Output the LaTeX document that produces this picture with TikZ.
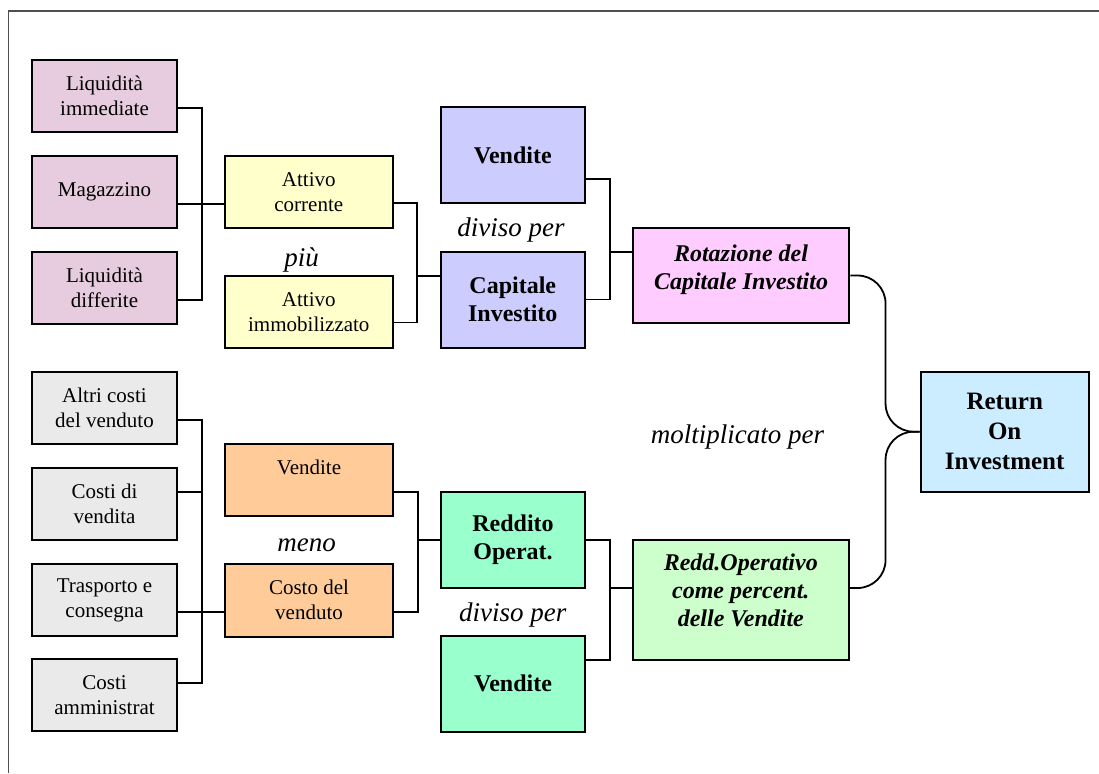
\documentclass[tikz,border=0pt]{standalone}
\usepackage{fontspec}
\setmainfont{Liberation Serif}
% box fills
\definecolor{mauve}{RGB}{230,204,222}
\definecolor{paleyellow}{RGB}{255,255,204}
\definecolor{lavender}{RGB}{204,204,255}
\definecolor{pinkish}{RGB}{255,204,255}
\definecolor{skyblue}{RGB}{204,236,255}
\definecolor{lightgrey}{RGB}{234,234,234}
\definecolor{peach}{RGB}{255,204,153}
\definecolor{mint}{RGB}{153,255,204}
\definecolor{palegreen}{RGB}{204,255,204}
\definecolor{framegrey}{RGB}{80,80,80}
% raise a block of centred lines without changing its reported size
\newcommand\liftlines[2]{\raisebox{#1}[\height][\depth]{\begin{tabular}{@{}c@{}}#2\end{tabular}}}
\begin{document}
\begin{tikzpicture}[x=1pt,y=-1pt,
  box/.style={draw=black, line width=2pt, inner sep=0pt, align=center},
  leaf/.style={box, fill=#1, minimum width=144.4pt, minimum height=72.5pt,
    font=\fontsize{21}{25}\selectfont},
  mid/.style={box, fill=#1, minimum width=168pt, minimum height=72.5pt,
    font=\fontsize{21}{25}\selectfont},
  opbox/.style={box, fill=#1, minimum width=144.3pt, minimum height=96pt,
    font=\fontsize{24}{28}\selectfont\bfseries},
  ratio/.style={box, fill=#1, minimum width=216.5pt,
    font=\fontsize{24}{28}\selectfont\bfseries\itshape},
  lbl/.style={anchor=base, inner sep=0pt, font=\fontsize{27}{32}\selectfont\itshape},
  conn/.style={line width=1.8pt, line join=miter},
]
\useasboundingbox (0,0) rectangle (1099,773);

% outer frame (top and left edges)
\draw[framegrey, line width=1.6pt] (8.3,773) -- (8.3,10.8) -- (1099,10.8);

% asset components
\node[leaf=mauve] (lq1) at (104.5,96.2) {Liquidità\\immediate};
\node[leaf=mauve] (mag) at (104.5,192) {Magazzino};
\node[leaf=mauve] (lq2) at (104.5,287.8) {Liquidità\\differite};

% cost components
\node[leaf=lightgrey] (alt) at (104.5,407.8) {Altri costi\\del venduto};
\node[leaf=lightgrey] (cdv) at (104.5,503.8) {Costi di\\vendita};
\node[leaf=lightgrey] (tra) at (104.5,600) {Trasporto e\\consegna};
\node[leaf=lightgrey] (amm) at (104.5,695.2) {Costi\\amministrat};

% second level
\node[mid=paleyellow] (ac) at (308.8,192) {Attivo\\corrente};
\node[mid=paleyellow] (ai) at (308.8,312) {Attivo\\immobilizzato};
\node[mid=peach] (ven2) at (309,480) {\liftlines{11pt}{Vendite}};
\node[mid=peach] (cos) at (309,600.3) {Costo del\\venduto};

% third level
\node[opbox=lavender] (ven1) at (512.8,155.3) {Vendite};
\node[opbox=lavender] (cap) at (512.8,299.5) {Capitale\\Investito};
\node[opbox=mint] (red) at (513,540.2) {Reddito\\Operat.};
\node[opbox=mint] (ven3) at (513,683.8) {Vendite};

% ratios
\node[ratio=pinkish, minimum height=95.6pt] (rot) at (741,275.5)
  {\liftlines{6pt}{Rotazione del\\Capitale Investito}};
\node[ratio=palegreen, minimum height=120pt] (rop) at (740.8,600)
  {\liftlines{7pt}{Redd.Operativo\\come percent.\\delle Vendite}};

% result
\node[box, fill=skyblue, minimum width=168pt, minimum height=120pt,
  font=\fontsize{25}{30}\selectfont\bfseries] (roi) at (1004.7,431.7)
  {Return\\On\\Investment};

% operation labels
\node[lbl] (piu) at (301.7,266) {più};
\node[lbl] (div1) at (511,236.7) {diviso per};
\node[lbl] (meno) at (306.7,551.7) {meno};
\node[lbl] (div2) at (512.8,621) {diviso per};
\node[lbl] (molt) at (737.5,443.3) {moltiplicato per};

% assets -> attivo corrente
\draw[conn] ([yshift=-12pt]lq1.east) -- ++(24.5,0) |- ([yshift=-12pt]lq2.east);
\draw[conn] ([yshift=-12pt]mag.east) -- ([yshift=-12pt]ac.west);

% attivo -> capitale investito
\draw[conn] ([yshift=-11pt]ac.east) -- ++(23.3,0) |- ([yshift=-10.5pt]ai.east);
\coordinate (j1) at (416,275.7);
\draw[conn] (j1) -- (j1 -| cap.west);

% vendite / capitale -> rotazione
\draw[conn] ([yshift=-24pt]ven1.east) -- ++(24.3,0) |- (cap.east);
\coordinate (j2) at (609.3,252.3);
\draw[conn] (j2) -- (j2 -| rot.west);

% costs -> costo del venduto
\draw[conn] ([yshift=-12pt]alt.east) -- ++(24.5,0) |- ([yshift=12pt]amm.east);
\draw[conn] ([yshift=12pt]cdv.east) -- ++(24.5,0);
\draw[conn] ([yshift=-12pt]tra.east) -- ([yshift=-12pt]tra.east -| cos.west);

% vendite / costo -> reddito
\draw[conn] ([yshift=-12pt]ven2.east) -- ++(23.7,0) |- ([yshift=-11.4pt]cos.east);
\coordinate (j3) at (417,540.2);
\draw[conn] (j3) -- (red.west);

% reddito / vendite -> redditivita
\draw[conn] (red.east) -- ++(23.7,0) |- ([yshift=24pt]ven3.east);
\coordinate (j4) at (608.7,587.7);
\draw[conn] (j4) -- (j4 -| rop.west);

% ratios -> ROI
\draw[conn, rounded corners=28pt] (rot.east) -- ++(35.3,0) |- (roi.west);
\draw[conn, rounded corners=28pt] ([yshift=12pt]rop.east) -- ++(35.5,0) |- (roi.west);
\end{tikzpicture}
\end{document}
